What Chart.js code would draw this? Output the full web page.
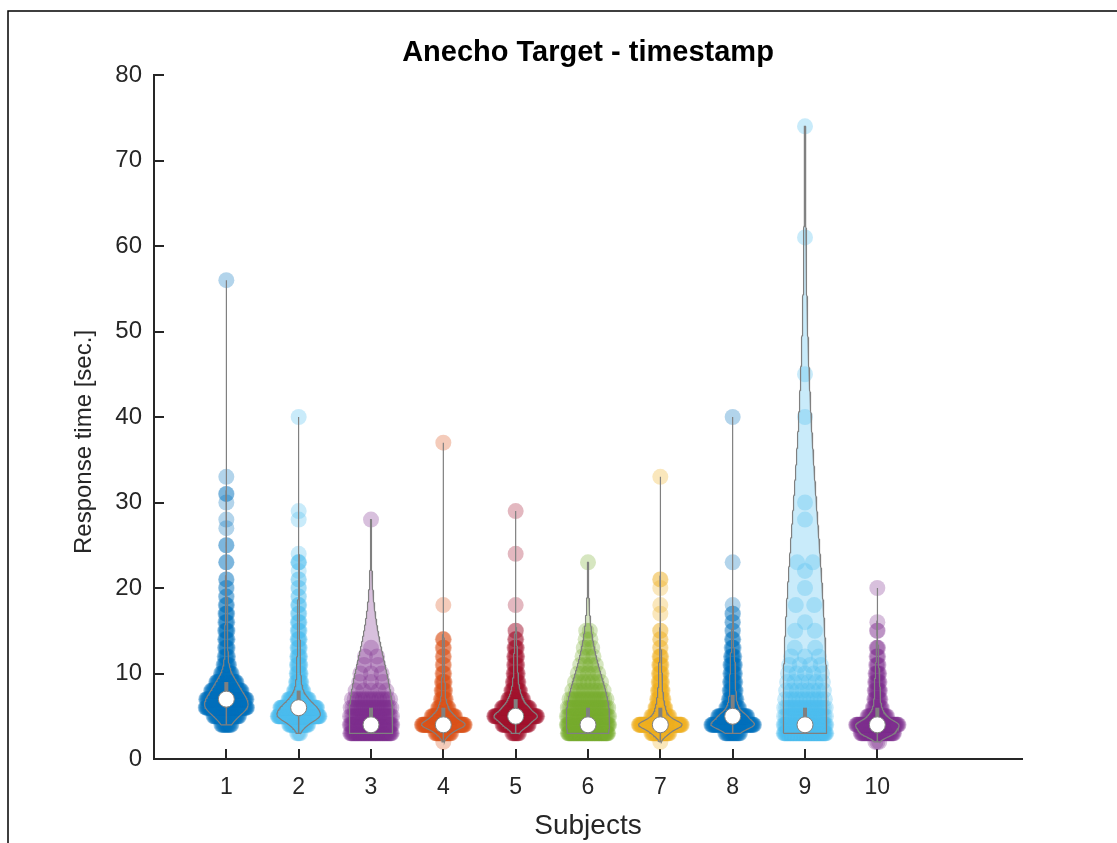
<!DOCTYPE html>
<html>
<head>
<meta charset="utf-8">
<title>Anecho Target - timestamp</title>
<script src="https://cdn.jsdelivr.net/npm/chart.js@4.4.1/dist/chart.umd.min.js"></script>
<style>
  html, body { margin: 0; padding: 0; background: #fff; }
  canvas { display: block; }
</style>
</head>
<body>
<canvas id="violins" width="1117" height="843"></canvas>
<script>
var subjects = ['1', '2', '3', '4', '5', '6', '7', '8', '9', '10'];

// response times per subject as [seconds, number of trials]
var subject1 = [[4, 15], [5, 40], [6, 80], [7, 70], [8, 50], [9, 35], [10, 16], [11, 9], [12, 6], [13, 5], [14, 5], [15, 5], [16, 4], [17, 4], [18, 3], [19, 2], [20, 2], [21, 2], [23, 2], [25, 2], [27, 1], [28, 1], [30, 1], [31, 2], [33, 1], [56, 1]];
var subject2 = [[3, 4], [4, 30], [5, 90], [6, 70], [7, 35], [8, 15], [9, 10], [10, 8], [11, 7], [12, 6], [13, 5], [14, 5], [15, 4], [16, 4], [17, 3], [18, 3], [19, 2], [20, 2], [21, 2], [22, 1], [23, 3], [24, 1], [28, 1], [29, 1], [40, 1]];
var subject3 = [[3, 60], [4, 50], [5, 30], [6, 22], [7, 15], [8, 5], [9, 3], [10, 3], [11, 2], [12, 2], [13, 1], [28, 1]];
var subject4 = [[2, 1], [3, 25], [4, 90], [5, 40], [6, 18], [7, 9], [8, 7], [9, 6], [10, 4], [11, 3], [12, 3], [13, 3], [14, 3], [18, 1], [37, 1]];
var subject5 = [[3, 10], [4, 45], [5, 80], [6, 45], [7, 25], [8, 15], [9, 10], [10, 8], [11, 6], [12, 6], [13, 5], [14, 3], [15, 2], [18, 1], [24, 1], [29, 1]];
var subject6 = [[3, 70], [4, 60], [5, 35], [6, 25], [7, 18], [8, 9], [9, 7], [10, 5], [11, 4], [12, 3], [13, 3], [14, 2], [15, 2], [23, 1]];
var subject7 = [[2, 1], [3, 30], [4, 90], [5, 28], [6, 18], [7, 12], [8, 9], [9, 7], [10, 6], [11, 5], [12, 4], [13, 2], [14, 2], [15, 2], [17, 1], [18, 1], [20, 1], [21, 2], [33, 1]];
var subject8 = [[3, 20], [4, 75], [5, 45], [6, 18], [7, 12], [8, 10], [9, 9], [10, 8], [11, 8], [12, 6], [13, 4], [14, 3], [15, 2], [16, 2], [17, 2], [18, 1], [23, 1], [40, 1]];
var subject9 = [[3, 72], [4, 55], [5, 28], [6, 22], [7, 12], [8, 8], [9, 6], [10, 5], [11, 4], [12, 3], [13, 2], [15, 2], [16, 1], [18, 2], [20, 1], [22, 1], [23, 2], [28, 1], [30, 1], [40, 1], [45, 1], [61, 1], [74, 1]];
var subject10 = [[2, 3], [3, 50], [4, 65], [5, 25], [6, 12], [7, 9], [8, 8], [9, 7], [10, 6], [11, 4], [12, 3], [13, 3], [15, 2], [16, 1], [20, 1]];

var responses = [subject1, subject2, subject3, subject4, subject5, subject6, subject7, subject8, subject9, subject10];
var colors = ['#0072BD', '#4DBEEE', '#7E2F8E', '#D95319', '#A2142F', '#77AC30', '#EDB120', '#0072BD', '#4DBEEE', '#7E2F8E'];
// kernel bandwidth in seconds for each violin
var bandwidths = [0.7, 0.6, 6.5, 0.5, 0.5, 4.5, 0.5, 0.5, 21, 0.5];

var violinWidth = 0.3;
var grey = '#808080';
var axisColor = '#262626';
var fontFamily = "'Liberation Sans', Arial, Helvetica, sans-serif";
var yTitle = 'Response time [sec.]';

function rgba(hex, a) {
    var n = parseInt(hex.slice(1), 16);
    return 'rgba(' + (n >> 16) + ',' + ((n >> 8) & 255) + ',' + (n & 255) + ',' + a + ')';
}

function density(hist, bw, y) {
    var s = 0;
    for (var i = 0; i < hist.length; i++) {
        var d = (y - hist[i][0]) / bw;
        s += hist[i][1] * Math.exp(-0.5 * d * d);
    }
    return s;
}

function expand(hist) {
    var out = [];
    hist.forEach(function (h) {
        for (var k = 0; k < h[1]; k++) out.push(h[0]);
    });
    return out;
}

function quantile(sorted, p) {
    var idx = p * (sorted.length - 1);
    var lo = Math.floor(idx), hi = Math.ceil(idx);
    return sorted[lo] + (sorted[hi] - sorted[lo]) * (idx - lo);
}

var datasets = [];
var medians = [];

responses.forEach(function (hist, i) {
    var pos = i + 1;
    var bw = bandwidths[i];
    var lo = hist[0][0];
    var hi = hist[hist.length - 1][0];
    var steps = 400;
    var ys = [];
    var dens = [];
    var peak = 0;
    for (var k = 0; k <= steps; k++) {
        var y = lo + (hi - lo) * k / steps;
        var d = density(hist, bw, y);
        ys.push(y);
        dens.push(d);
        if (d > peak) peak = d;
    }
    hist.forEach(function (h) {
        peak = Math.max(peak, density(hist, bw, h[0]));
    });

    // violin outline: up the left side, back down the right side
    var outline = [];
    for (var a = 0; a < ys.length; a++) {
        outline.push({ x: pos - dens[a] / peak * violinWidth, y: ys[a] });
    }
    for (var b = ys.length - 1; b >= 0; b--) {
        outline.push({ x: pos + dens[b] / peak * violinWidth, y: ys[b] });
    }
    outline.push(outline[0]);

    // trials spread across the violin width at their level
    var pts = [];
    hist.forEach(function (h) {
        var w = density(hist, bw, h[0]) / peak * violinWidth;
        var c = h[1];
        for (var k = 0; k < c; k++) {
            pts.push({ x: pos + w * (-1 + (2 * k + 1) / c), y: h[0] });
        }
    });

    var sorted = expand(hist).sort(function (p, q) { return p - q; });
    var q1 = quantile(sorted, 0.25);
    var med = quantile(sorted, 0.5);
    var q3 = quantile(sorted, 0.75);
    var lowWhisker = Math.max(sorted[0], q1 - 1.5 * (q3 - q1));
    medians.push({ x: pos, y: med });

    datasets.push({
        type: 'scatter',
        label: 'Subject ' + subjects[i],
        data: pts,
        backgroundColor: rgba(colors[i], 0.3),
        borderWidth: 0,
        pointRadius: 8,
        pointHoverRadius: 8,
        order: 4
    });
    datasets.push({
        type: 'line',
        data: outline,
        showLine: true,
        fill: 'shape',
        backgroundColor: rgba(colors[i], 0.3),
        borderColor: grey,
        borderWidth: 1.2,
        pointRadius: 0,
        tension: 0,
        order: 3
    });
    datasets.push({
        type: 'line',
        data: [{ x: pos, y: lowWhisker }, { x: pos, y: q1 }],
        borderColor: grey,
        borderWidth: 1.5,
        pointRadius: 0,
        fill: false,
        order: 2
    });
    datasets.push({
        type: 'line',
        data: [{ x: pos, y: q1 }, { x: pos, y: q3 }],
        borderColor: grey,
        borderWidth: 4,
        borderCapStyle: 'butt',
        pointRadius: 0,
        fill: false,
        order: 1
    });
});

datasets.push({
    type: 'scatter',
    label: 'Median',
    data: medians,
    backgroundColor: '#ffffff',
    borderColor: grey,
    borderWidth: 1,
    pointRadius: 8,
    pointHoverRadius: 8,
    order: 0
});

// white page with the outer figure border
var figureFrame = {
    id: 'figureFrame',
    beforeDraw: function (chart) {
        var ctx = chart.ctx;
        ctx.save();
        ctx.fillStyle = '#ffffff';
        ctx.fillRect(0, 0, chart.width, chart.height);
        ctx.strokeStyle = '#000000';
        ctx.lineWidth = 1.5;
        ctx.strokeRect(8, 11, chart.width + 20, chart.height + 20);
        ctx.restore();
    }
};

// y axis label, set a little below the middle of the axis
var yAxisLabel = {
    id: 'yAxisLabel',
    afterDraw: function (chart) {
        var area = chart.chartArea;
        var ctx = chart.ctx;
        ctx.save();
        ctx.translate(84, (area.top + area.bottom) / 2 + 25);
        ctx.rotate(-Math.PI / 2);
        ctx.fillStyle = axisColor;
        ctx.font = '24px ' + fontFamily;
        ctx.textAlign = 'center';
        ctx.textBaseline = 'middle';
        ctx.fillText(yTitle, 0, 0);
        ctx.restore();
    }
};

var ctx = document.getElementById('violins');
var violinChart = new Chart(ctx, {
    type: 'scatter',
    data: { datasets: datasets },
    plugins: [figureFrame, yAxisLabel],
    options: {
        responsive: false,
        animation: false,
        devicePixelRatio: 1,
        events: [],
        layout: { padding: { left: 0, right: 95, top: 0, bottom: 0 } },
        plugins: {
            legend: { display: false },
            tooltip: { enabled: false },
            title: {
                display: true,
                text: 'Anecho Target - timestamp',
                fullSize: false,
                color: '#000000',
                font: { family: fontFamily, size: 29, weight: 'bold' },
                padding: { top: 35.6, bottom: 4.6 }
            }
        },
        scales: {
            x: {
                type: 'linear',
                min: 0,
                max: 12,
                afterBuildTicks: function (scale) {
                    scale.ticks = subjects.map(function (s, k) { return { value: k + 1 }; });
                },
                afterFit: function (scale) { scale.height = 84; },
                grid: { drawOnChartArea: false, tickLength: -10, color: axisColor, lineWidth: 2 },
                border: { color: axisColor, width: 2 },
                ticks: {
                    padding: 25,
                    color: axisColor,
                    font: { family: fontFamily, size: 23 },
                    callback: function (v) { return subjects[v - 1]; }
                },
                title: {
                    display: true,
                    text: 'Subjects',
                    color: axisColor,
                    font: { family: fontFamily, size: 28 },
                    padding: { top: 0, bottom: 0 }
                }
            },
            y: {
                min: 0,
                max: 80,
                afterFit: function (scale) { scale.width = 154; },
                grid: { drawOnChartArea: false, tickLength: -10, color: axisColor, lineWidth: 2 },
                border: { color: axisColor, width: 2 },
                ticks: {
                    stepSize: 10,
                    padding: 22,
                    color: axisColor,
                    font: { family: fontFamily, size: 24 }
                }
            }
        }
    }
});
</script>
</body>
</html>
